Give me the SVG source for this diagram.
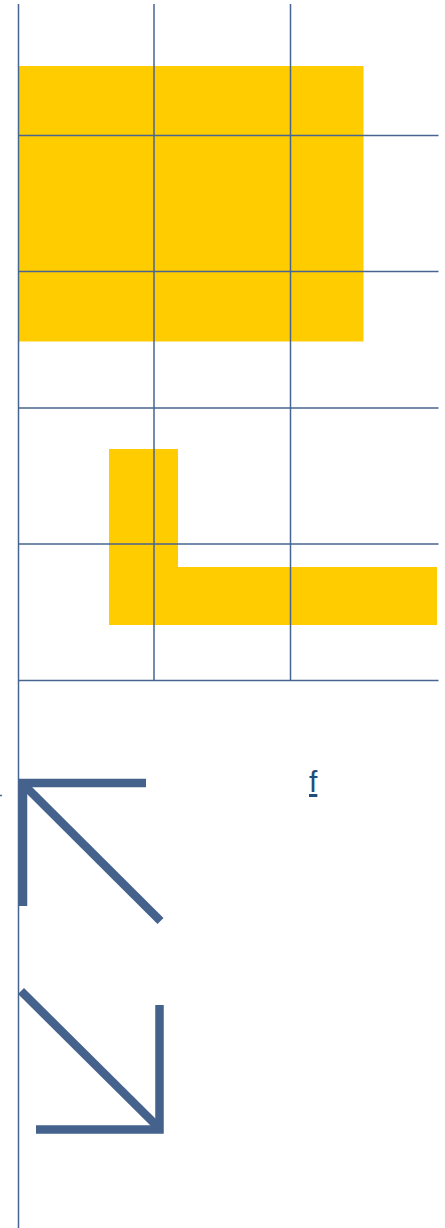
<svg xmlns="http://www.w3.org/2000/svg" width="445" height="1228" viewBox="0 0 445 1228">
<style>
.fill{fill:#FFCC00;stroke:none}
.grid{stroke:#46658f;stroke-width:1.5;fill:none}
.arw{stroke:#44628c;stroke-width:8.5;fill:none;stroke-linecap:butt;stroke-linejoin:miter}
.lbl{font-family:"Liberation Sans",Arial,sans-serif;font-size:30px;fill:#1f4e79;text-decoration:underline}
</style>
<g id="shapes">
<rect class="fill" x="19" y="66" width="344.5" height="275.5"/>
<path class="fill" d="M109,449 H178 V567 H437 V625 H109 Z"/>
</g>
<g id="grid">
<line class="grid" x1="18.5" y1="4" x2="18.5" y2="1228"/>
<line class="grid" x1="154" y1="4" x2="154" y2="680"/>
<line class="grid" x1="290.5" y1="4" x2="290.5" y2="680"/>
<line class="grid" x1="18.5" y1="135.5" x2="438.5" y2="135.5"/>
<line class="grid" x1="18.5" y1="271.5" x2="438.5" y2="271.5"/>
<line class="grid" x1="18.5" y1="408" x2="438.5" y2="408"/>
<line class="grid" x1="18.5" y1="544" x2="438.5" y2="544"/>
<line class="grid" x1="18.5" y1="680.5" x2="438.5" y2="680.5"/>
<line class="grid" x1="0" y1="795.5" x2="2" y2="795.5"/>
</g>
<g id="arrow-up-left">
<path class="arw" d="M146,783 H23 V906"/>
<line class="arw" x1="24" y1="785" x2="160.5" y2="921"/>
</g>
<g id="arrow-down-right">
<path class="arw" d="M36,1129.5 H159.5 V1005"/>
<line class="arw" x1="21" y1="991" x2="158" y2="1127"/>
</g>
<g id="label-f">
<text class="lbl" x="309" y="792">f</text>
</g>
</svg>
